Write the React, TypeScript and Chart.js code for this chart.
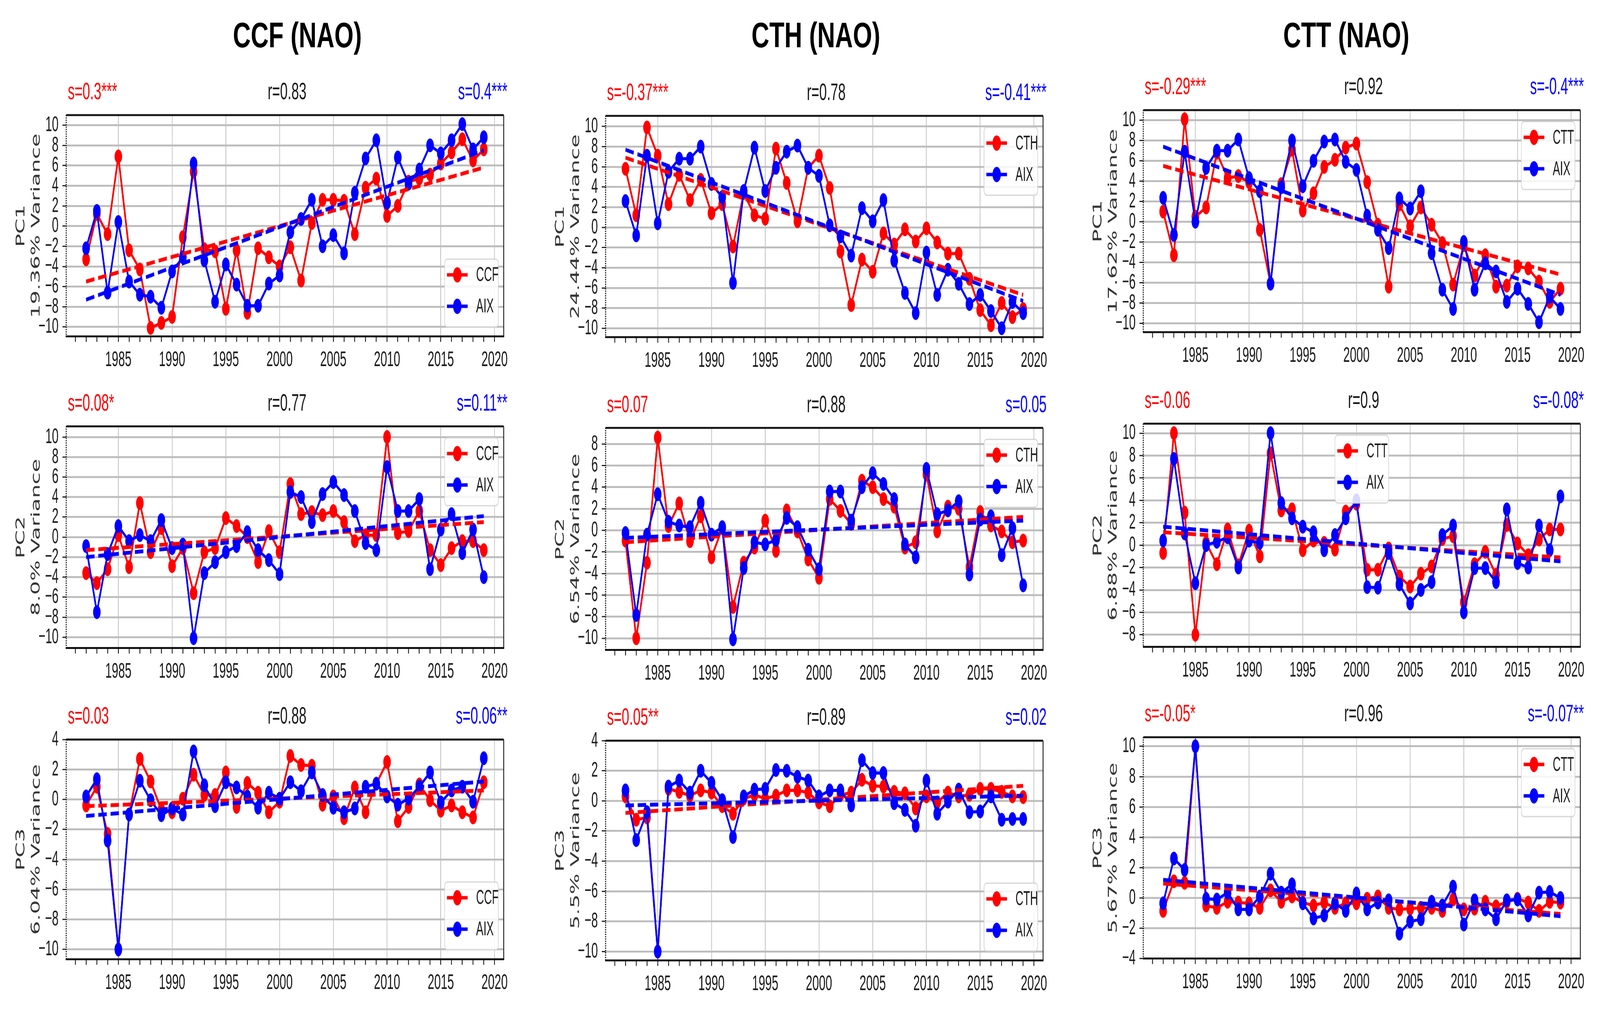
import React, { useEffect, useRef } from 'react';
import { Chart, registerables } from 'chart.js';
Chart.register(...registerables);

// ---------------- DATA ----------------
const YEARS = [1982, 1983, 1984, 1985, 1986, 1987, 1988, 1989, 1990, 1991, 1992, 1993, 1994, 1995, 1996, 1997, 1998, 1999, 2000, 2001, 2002, 2003, 2004, 2005, 2006, 2007, 2008, 2009, 2010, 2011, 2012, 2013, 2014, 2015, 2016, 2017, 2018, 2019];
const TREND_YEARS = [1982, 2019];
const COLUMN_TITLES = ['CCF (NAO)', 'CTH (NAO)', 'CTT (NAO)'];

const CCF_PC1 = [-3.3, 1.2, -0.8, 6.9, -2.4, -4.3, -10.1, -9.6, -9.0, -1.1, 5.4, -2.3, -2.5, -8.2, -2.4, -8.6, -2.2, -3.1, -4.0, -2.1, -5.4, 0.3, 2.6, 2.6, 2.5, -0.8, 3.8, 4.7, 1.0, 2.0, 4.4, 4.7, 5.1, 6.2, 7.3, 8.6, 6.5, 7.6];
const AIX_CCF_PC1 = [-2.2, 1.5, -6.6, 0.4, -5.5, -6.8, -7.0, -8.1, -4.5, -3.1, 6.2, -3.4, -7.5, -3.8, -5.8, -7.9, -7.9, -5.7, -4.9, -0.6, 0.7, 2.6, -2.0, -0.9, -2.7, 3.3, 6.7, 8.5, 2.3, 6.8, 4.2, 5.6, 8.0, 7.2, 8.5, 10.1, 7.6, 8.8];
const CTH_PC1 = [5.8, 1.2, 9.9, 7.1, 2.3, 5.2, 2.7, 4.7, 1.4, 2.3, -1.9, 3.4, 1.2, 0.85, 7.8, 4.4, 0.6, 5.9, 7.1, 3.9, -2.4, -7.7, -3.2, -4.4, -0.6, -1.7, -0.2, -1.4, -0.1, -1.5, -2.6, -2.6, -5.1, -8.2, -9.7, -7.5, -8.9, -8.1];
const AIX_CTH_PC1 = [2.6, -0.8, 7.1, 0.4, 5.5, 6.8, 6.8, 8.0, 4.3, 3.0, -5.5, 3.6, 7.9, 3.6, 5.9, 7.5, 8.1, 5.9, 5.1, 0.2, -0.9, -2.8, 1.9, 0.6, 2.7, -3.3, -6.5, -8.5, -2.5, -6.7, -4.2, -5.6, -7.6, -6.7, -8.3, -10.0, -7.4, -8.5];
const CTT_PC1 = [1.0, -3.3, 10.1, 0.5, 1.4, 6.8, 4.3, 4.5, 3.9, -0.8, -6.1, 3.7, 7.1, 1.1, 2.8, 5.4, 6.1, 7.3, 7.7, 3.9, -0.3, -6.4, 1.7, -0.45, 1.4, -0.3, -2.1, -6.2, -2.3, -5.3, -3.3, -6.4, -6.3, -4.4, -4.6, -5.9, -7.9, -6.6];
const AIX_CTT_PC1 = [2.35, -1.3, 6.9, 0.0, 5.3, 7.0, 7.0, 8.1, 4.3, 3.0, -6.1, 3.4, 8.0, 3.5, 6.0, 7.9, 8.1, 5.9, 5.1, 0.6, -0.8, -2.6, 2.3, 1.3, 3.0, -3.1, -6.7, -8.6, -2.0, -6.7, -4.1, -4.9, -7.9, -6.6, -8.1, -9.9, -7.4, -8.6];

const CCF_PC2 = [-3.6, -4.6, -3.2, 0.2, -3.0, 3.4, -1.5, 0.9, -2.9, -1.1, -5.6, -1.5, -1.1, 1.9, 1.1, 0.0, -2.5, 0.6, -1.5, 5.3, 2.3, 2.5, 2.2, 2.6, 1.5, -0.4, 0.2, 0.2, 10.0, 0.4, 0.6, 2.6, -1.3, -2.8, -1.1, -0.4, -0.4, -1.3];
const AIX_CCF_PC2 = [-0.9, -7.5, -1.7, 1.1, -0.4, 0.2, -0.4, 1.7, -1.1, -0.75, -10.1, -3.6, -2.5, -1.5, -0.9, 0.5, -1.3, -2.3, -3.7, 4.5, 4.0, 1.5, 4.3, 5.5, 4.2, 2.6, -0.6, -1.3, 7.0, 2.6, 2.6, 3.8, -3.2, 0.75, 2.3, -1.6, 0.75, -4.0];
const CTH_PC2 = [-0.95, -10.0, -3.0, 8.6, 0.4, 2.5, -1.0, 1.3, -2.5, 0.2, -7.1, -3.0, -1.6, 0.9, -1.9, 1.85, -0.1, -2.7, -4.4, 2.9, 1.8, 0.6, 4.6, 4.0, 2.9, 2.2, -1.6, -1.1, 5.2, -0.1, 2.2, 2.0, -3.4, 1.7, 0.45, -0.1, -1.1, -0.95];
const AIX_CTH_PC2 = [-0.25, -7.85, -0.4, 3.35, 0.8, 0.45, 0.3, 2.55, -0.4, 0.3, -10.1, -3.5, -1.1, -1.3, -0.9, 1.15, 0.3, -1.8, -3.6, 3.6, 3.6, 0.9, 4.0, 5.3, 4.3, 2.9, -1.3, -2.5, 5.7, 1.5, 1.85, 2.7, -4.1, 1.0, 1.3, -2.3, 0.2, -5.1];
const CTT_PC2 = [-0.7, 10.0, 2.9, -8.0, 0.2, -1.7, 1.4, -1.8, 1.3, -1.0, 8.2, 3.1, 3.2, -0.45, 0.4, 0.2, -0.4, 3.0, 3.7, -2.2, -2.2, -0.3, -2.8, -3.7, -2.55, -1.9, 0.55, 0.8, -5.1, -1.7, -0.6, -2.65, 1.8, 0.15, -0.9, 0.5, 1.4, 1.4];
const AIX_CTT_PC2 = [0.4, 7.7, 1.05, -3.4, 0.0, 0.3, 0.7, -2.0, 0.4, 0.2, 10.0, 3.75, 2.4, 1.65, 1.15, -0.45, 0.9, 2.4, 4.0, -3.75, -3.8, -0.7, -3.5, -5.2, -4.0, -3.3, 0.9, 1.75, -6.0, -2.05, -2.05, -3.3, 3.2, -1.6, -2.0, 1.75, -0.45, 4.35];

const CCF_PC3 = [-0.4, 0.85, -2.3, -10.0, -1.0, 2.7, 1.2, -0.7, -0.85, 0.05, 1.65, 0.3, 0.3, 1.8, -0.5, 1.1, 0.45, -0.85, -0.15, 2.9, 2.3, 2.25, -0.35, 0.2, -1.25, 0.8, -0.85, 1.05, 2.5, -1.45, -0.5, 1.0, -0.05, -0.75, -0.4, -0.85, -1.2, 1.15];
const AIX_CCF_PC3 = [0.2, 1.35, -2.75, -10.0, -1.0, 1.25, -0.05, -1.05, -0.6, -1.0, 3.2, 0.95, -0.45, 1.15, 0.8, 0.2, -0.55, 0.45, 0.05, 1.15, 0.55, 1.8, 0.3, -0.55, -0.85, -0.6, 0.85, 1.05, 0.2, -0.35, 0.05, 0.85, 1.8, -0.2, 0.6, 0.85, -0.15, 2.75];
const CTH_PC3 = [0.3, -1.25, -1.1, -10.0, 0.8, 0.6, 0.35, 0.7, 0.55, -0.35, -0.85, 0.15, 0.4, 0.15, 0.35, 0.7, 0.7, 0.55, -0.1, -0.35, 0.4, 0.55, 1.4, 1.0, 0.95, 0.6, 0.5, -0.5, 0.3, -0.1, 0.55, 0.3, 0.4, 0.8, 0.8, 0.6, 0.3, 0.25];
const AIX_CTH_PC3 = [0.7, -2.6, -0.75, -10.0, 0.95, 1.35, 0.55, 2.0, 1.2, 0.05, -2.4, 0.3, 0.75, 0.8, 2.05, 2.0, 1.6, 1.35, 0.3, 0.7, 0.7, -0.3, 2.7, 1.85, 1.85, -0.15, -0.6, -1.65, 1.35, -0.85, -0.05, 0.75, -0.75, -0.7, 0.3, -1.25, -1.2, -1.2];
const CTT_PC3 = [-0.85, 1.1, 1.0, 10.0, -0.5, -0.65, -0.25, -0.3, -0.35, -0.65, 0.5, -0.25, 0.1, -0.3, -0.5, -0.3, -0.65, -0.35, -0.35, -0.05, 0.1, -0.65, -0.75, -0.7, -0.65, -0.65, -0.85, -0.1, -0.75, -0.7, -0.25, -0.55, -0.25, -0.05, -0.3, -0.85, -0.25, -0.3];
const AIX_CTT_PC3 = [-0.35, 2.6, 1.85, 10.0, -0.05, -0.1, 0.35, -0.75, -0.75, 0.1, 1.6, 0.35, 0.9, -0.35, -1.35, -1.15, -0.35, -0.85, 0.3, -0.75, -0.3, -0.15, -2.35, -1.55, -1.4, -0.25, -0.5, 0.75, -1.75, -0.15, -0.75, -1.4, -0.15, -0.1, -1.15, 0.35, 0.4, 0.0];

// trend line values at 1982 and 2019
const CCF_PC1_TREND = [-5.5, 5.8];
const AIX_CCF_PC1_TREND = [-7.3, 7.5];
const CTH_PC1_TREND = [6.9, -6.7];
const AIX_CTH_PC1_TREND = [7.7, -7.3];
const CTT_PC1_TREND = [5.5, -5.2];
const AIX_CTT_PC1_TREND = [7.4, -7.2];
const CCF_PC2_TREND = [-1.3, 1.5];
const AIX_CCF_PC2_TREND = [-2.0, 2.1];
const CTH_PC2_TREND = [-1.1, 1.25];
const AIX_CTH_PC2_TREND = [-0.7, 0.9];
const CTT_PC2_TREND = [1.15, -1.1];
const AIX_CTT_PC2_TREND = [1.65, -1.45];
const CCF_PC3_TREND = [-0.45, 0.6];
const AIX_CCF_PC3_TREND = [-1.1, 1.2];
const CTH_PC3_TREND = [-0.8, 1.0];
const AIX_CTH_PC3_TREND = [-0.3, 0.35];
const CTT_PC3_TREND = [0.95, -1.05];
const AIX_CTT_PC3_TREND = [1.2, -1.2];

const PANELS = [
  { name: 'CCF', pc: 'PC1', variance: '19.36% Variance', red: CCF_PC1, blue: AIX_CCF_PC1, redTrend: CCF_PC1_TREND, blueTrend: AIX_CCF_PC1_TREND, yMin: -10.95, yMax: 11.0, sRed: 's=0.3***', r: 'r=0.83', sBlue: 's=0.4***', legend: 'lr' },
  { name: 'CTH', pc: 'PC1', variance: '24.44% Variance', red: CTH_PC1, blue: AIX_CTH_PC1, redTrend: CTH_PC1_TREND, blueTrend: AIX_CTH_PC1_TREND, yMin: -10.9, yMax: 11.05, sRed: 's=-0.37***', r: 'r=0.78', sBlue: 's=-0.41***', legend: 'ur' },
  { name: 'CTT', pc: 'PC1', variance: '17.62% Variance', red: CTT_PC1, blue: AIX_CTT_PC1, redTrend: CTT_PC1_TREND, blueTrend: AIX_CTT_PC1_TREND, yMin: -10.9, yMax: 11.0, sRed: 's=-0.29***', r: 'r=0.92', sBlue: 's=-0.4***', legend: 'ur' },
  { name: 'CCF', pc: 'PC2', variance: '8.0% Variance', red: CCF_PC2, blue: AIX_CCF_PC2, redTrend: CCF_PC2_TREND, blueTrend: AIX_CCF_PC2_TREND, yMin: -11.1, yMax: 11.07, sRed: 's=0.08*', r: 'r=0.77', sBlue: 's=0.11**', legend: 'ur' },
  { name: 'CTH', pc: 'PC2', variance: '6.54% Variance', red: CTH_PC2, blue: AIX_CTH_PC2, redTrend: CTH_PC2_TREND, blueTrend: AIX_CTH_PC2_TREND, yMin: -11.1, yMax: 9.5, sRed: 's=0.07', r: 'r=0.88', sBlue: 's=0.05', legend: 'ur' },
  { name: 'CTT', pc: 'PC2', variance: '6.88% Variance', red: CTT_PC2, blue: AIX_CTT_PC2, redTrend: CTT_PC2_TREND, blueTrend: AIX_CTT_PC2_TREND, yMin: -9.1, yMax: 10.85, sRed: 's=-0.06', r: 'r=0.9', sBlue: 's=-0.08*', legend: 'uc' },
  { name: 'CCF', pc: 'PC3', variance: '6.04% Variance', red: CCF_PC3, blue: AIX_CCF_PC3, redTrend: CCF_PC3_TREND, blueTrend: AIX_CCF_PC3_TREND, yMin: -10.67, yMax: 4.0, sRed: 's=0.03', r: 'r=0.88', sBlue: 's=0.06**', legend: 'lr' },
  { name: 'CTH', pc: 'PC3', variance: '5.5% Variance', red: CTH_PC3, blue: AIX_CTH_PC3, redTrend: CTH_PC3_TREND, blueTrend: AIX_CTH_PC3_TREND, yMin: -10.6, yMax: 4.0, sRed: 's=0.05**', r: 'r=0.89', sBlue: 's=0.02', legend: 'lr' },
  { name: 'CTT', pc: 'PC3', variance: '5.67% Variance', red: CTT_PC3, blue: AIX_CTT_PC3, redTrend: CTT_PC3_TREND, blueTrend: AIX_CTT_PC3_TREND, yMin: -4.0, yMax: 10.6, sRed: 's=-0.05*', r: 'r=0.96', sBlue: 's=-0.07**', legend: 'ur' },
];

// ---------------- LAYOUT / STYLE ----------------
const S = 0.55; // horizontal squeeze of the figure
const FIG_W = 4175;
const FIG_H = 2626;
const COL_X = [[173, 1324], [1580, 2731], [2983, 4133]];
const ROW_Y = [
  [[294, 878], [296, 880], [281, 867]],
  [[1106, 1691], [1110, 1696], [1099, 1688]],
  [[1923, 2503], [1926, 2506], [1917, 2501]],
];
const TITLE_X = [776, 2129, 3513];
const AX_W = 170; // y axis area width (orig px)
const PAD_T = 40;
const PAD_R = 12;
const X_H = 95;
const RED = '#ff0000';
const BLUE = '#0000ff';
const NARROW = '"Liberation Sans Narrow", "Liberation Sans", Arial, sans-serif';
const SANS = '"Liberation Sans", Arial, sans-serif';

const framePlugin = {
  id: 'frame',
  afterDatasetsDraw(chart: any) {
    const { ctx, chartArea } = chart;
    const { left, right, top, bottom } = chartArea;
    ctx.save();
    ctx.strokeStyle = '#111';
    ctx.lineWidth = 5;
    ctx.beginPath();
    ctx.moveTo(left, top);
    ctx.lineTo(right, top);
    ctx.stroke();
    ctx.lineWidth = 4;
    ctx.beginPath();
    ctx.moveTo(right, top);
    ctx.lineTo(right, bottom);
    ctx.stroke();
    // dotted left spine
    ctx.lineWidth = 3 / S;
    ctx.setLineDash([3, 3]);
    ctx.beginPath();
    ctx.moveTo(left, top);
    ctx.lineTo(left, bottom);
    ctx.stroke();
    ctx.restore();
  },
};

function makeLegendPlugin(pos: string) {
  return {
    id: 'boxLegend',
    afterDraw(chart: any) {
      const { ctx, chartArea } = chart;
      const W = 140 / S;
      const H = 177;
      let x: number;
      let y: number;
      if (pos === 'lr') {
        x = chartArea.right - 14 / S - W;
        y = chartArea.bottom - 25 - H;
      } else if (pos === 'uc') {
        x = (chartArea.left + chartArea.right) / 2 - W / 2;
        y = chartArea.top + 30;
      } else {
        x = chartArea.right - 14 / S - W;
        y = chartArea.top + 30;
      }
      ctx.save();
      ctx.beginPath();
      if (ctx.roundRect) ctx.roundRect(x, y, W, H, 12);
      else ctx.rect(x, y, W, H);
      ctx.fillStyle = 'rgba(255,255,255,0.85)';
      ctx.fill();
      ctx.strokeStyle = '#d4d4d4';
      ctx.lineWidth = 3;
      ctx.stroke();
      chart.data.datasets.slice(0, 2).forEach((ds: any, i: number) => {
        const cy = y + 41 + i * 82;
        ctx.strokeStyle = ds.borderColor;
        ctx.lineWidth = 9;
        ctx.beginPath();
        ctx.moveTo(x + 6 / S, cy);
        ctx.lineTo(x + 60 / S, cy);
        ctx.stroke();
        ctx.fillStyle = ds.borderColor;
        ctx.beginPath();
        ctx.arc(x + 33 / S, cy, 20, 0, Math.PI * 2);
        ctx.fill();
        ctx.fillStyle = '#1a1a1a';
        ctx.font = `52px ${NARROW}`;
        ctx.textBaseline = 'middle';
        ctx.textAlign = 'left';
        ctx.fillText(ds.label, x + 82 / S, cy + 2);
      });
      ctx.restore();
    },
  };
}

function fmtMinus(v: number) {
  const r = Math.round(v * 100) / 100;
  return r < 0 ? '\u2212' + Math.abs(r) : String(r);
}

function makeConfig(p: any) {
  const line = (label: string, vals: number[], color: string, order: number) => ({
    label,
    data: YEARS.map((x, i) => ({ x, y: vals[i] })),
    borderColor: color,
    backgroundColor: color,
    pointBackgroundColor: color,
    pointBorderColor: color,
    pointBorderWidth: 0,
    pointRadius: 18,
    borderWidth: 8,
    tension: 0,
    order,
  });
  const trend = (vals: number[], color: string, order: number) => ({
    label: 'trend',
    data: TREND_YEARS.map((x, i) => ({ x, y: vals[i] })),
    borderColor: color,
    backgroundColor: color,
    borderWidth: 10,
    borderDash: [40, 18],
    pointRadius: 0,
    order,
  });
  return {
    type: 'line',
    data: {
      datasets: [
        line(p.name, p.red, RED, 4),
        line('AIX', p.blue, BLUE, 3),
        trend(p.redTrend, RED, 2),
        trend(p.blueTrend, BLUE, 1),
      ],
    },
    options: {
      animation: false,
      responsive: false,
      devicePixelRatio: (typeof window !== 'undefined' && window.devicePixelRatio) || 1,
      events: [],
      layout: { padding: { top: PAD_T, right: PAD_R / S, left: 0, bottom: 0 } },
      plugins: { legend: { display: false }, tooltip: { enabled: false } },
      scales: {
        x: {
          type: 'linear',
          min: 1980.15,
          max: 2020.85,
          afterFit: (sc: any) => { sc.height = X_H; },
          ticks: {
            stepSize: 1,
            autoSkip: false,
            maxTicksLimit: 100,
            maxRotation: 0,
            minRotation: 0,
            includeBounds: false,
            padding: 20,
            color: '#1a1a1a',
            font: { family: NARROW, size: 56, lineHeight: 1 },
            callback: (v: number) => (Math.round(v) % 5 === 0 ? String(Math.round(v)) : ''),
          },
          grid: {
            color: (c: any) => (c.tick && Math.round(c.tick.value) % 5 === 0 ? '#c4c4c4' : 'rgba(0,0,0,0)'),
            lineWidth: 2 / S,
            tickColor: '#1a1a1a',
            tickWidth: 2.2 / S,
            tickLength: 14,
          },
          border: { display: true, color: '#111', width: 5 },
        },
        y: {
          type: 'linear',
          min: p.yMin,
          max: p.yMax,
          afterFit: (sc: any) => { sc.width = AX_W / S; },
          ticks: {
            stepSize: 2,
            autoSkip: false,
            includeBounds: false,
            padding: 10 / S,
            color: '#1a1a1a',
            font: { family: NARROW, size: 56, lineHeight: 1 },
            callback: (v: number) => fmtMinus(v),
          },
          grid: {
            color: '#bdbdbd',
            lineWidth: 5,
            tickColor: '#1a1a1a',
            tickWidth: 3,
            tickLength: 10 / S,
          },
          border: { display: false },
          title: {
            display: true,
            text: [p.pc, p.variance],
            color: '#333',
            font: { family: '"DejaVu Sans", sans-serif', size: 57, lineHeight: 1.25 },
            padding: { top: 61, bottom: 0 },
          },
        },
      },
    },
    plugins: [framePlugin, makeLegendPlugin(p.legend)],
  };
}

function Panel({ p, plotL, plotR, plotT, plotB }: any) {
  const ref = useRef<HTMLCanvasElement>(null);
  const leftO = plotL - AX_W;
  const w = Math.round((plotR - plotL + AX_W + PAD_R) / S);
  const h = Math.round(plotB - plotT + PAD_T + X_H);
  useEffect(() => {
    const chart = new Chart(ref.current as HTMLCanvasElement, makeConfig(p) as any);
    return () => chart.destroy();
  }, []);
  return (
    <canvas
      ref={ref}
      width={w}
      height={h}
      style={{ position: 'absolute', left: leftO / S, top: plotT - PAD_T, width: w, height: h }}
    />
  );
}

function Txt({ x, y, align, text, color, size, weight, sx, family }: any) {
  const W = 1400;
  const left = align === 'left' ? x : align === 'right' ? x - W : x - W / 2;
  const origin = align === 'left' ? 'left center' : align === 'right' ? 'right center' : 'center center';
  return (
    <div
      style={{
        position: 'absolute',
        left,
        top: y - size * 0.49,
        width: W,
        textAlign: align,
        fontFamily: family,
        fontSize: size,
        fontWeight: weight,
        lineHeight: 1,
        color,
        whiteSpace: 'nowrap',
        transform: `scaleX(${sx})`,
        transformOrigin: origin,
      }}
    >
      {text}
    </div>
  );
}

export default function App() {
  const vw = typeof window !== 'undefined' ? window.innerWidth : FIG_W;
  const vh = typeof window !== 'undefined' ? window.innerHeight : FIG_H;
  const k = Math.min(vw / FIG_W, vh / FIG_H) || 1;
  const panels = PANELS.map((p, idx) => {
    const r = Math.floor(idx / 3);
    const c = idx % 3;
    return { p, idx, plotL: COL_X[c][0], plotR: COL_X[c][1], plotT: ROW_Y[r][c][0], plotB: ROW_Y[r][c][1] };
  });
  return (
    <div style={{ position: 'fixed', left: 0, top: 0, width: '100vw', height: '100vh', overflow: 'hidden', background: '#fff' }}>
      <div style={{ position: 'absolute', left: 0, top: 0, width: FIG_W, height: FIG_H, overflow: 'hidden', background: '#fff', transform: `scale(${k})`, transformOrigin: '0 0' }}>
        <div style={{ position: 'absolute', left: 0, top: 0, width: FIG_W / S, height: FIG_H, transform: `scaleX(${S})`, transformOrigin: '0 0' }}>
          {panels.map((g) => (
            <Panel key={g.idx} p={g.p} plotL={g.plotL} plotR={g.plotR} plotT={g.plotT} plotB={g.plotB} />
          ))}
        </div>
        {COLUMN_TITLES.map((t, i) => (
          <Txt key={'t' + i} x={TITLE_X[i]} y={90} align="center" text={t} color="#000" size={92} weight="bold" sx={0.7} family={SANS} />
        ))}
        {panels.map((g) => {
          const yc = g.plotT - 57;
          return (
            <React.Fragment key={'l' + g.idx}>
              <Txt x={g.plotL + 4} y={yc} align="left" text={g.p.sRed} color={RED} size={62} weight="normal" sx={0.57} family={SANS} />
              <Txt x={(g.plotL + g.plotR) / 2} y={yc} align="center" text={g.p.r} color="#1a1a1a" size={62} weight="normal" sx={0.57} family={SANS} />
              <Txt x={g.plotR} y={yc} align="right" text={g.p.sBlue} color={BLUE} size={62} weight="normal" sx={0.57} family={SANS} />
            </React.Fragment>
          );
        })}
      </div>
    </div>
  );
}
